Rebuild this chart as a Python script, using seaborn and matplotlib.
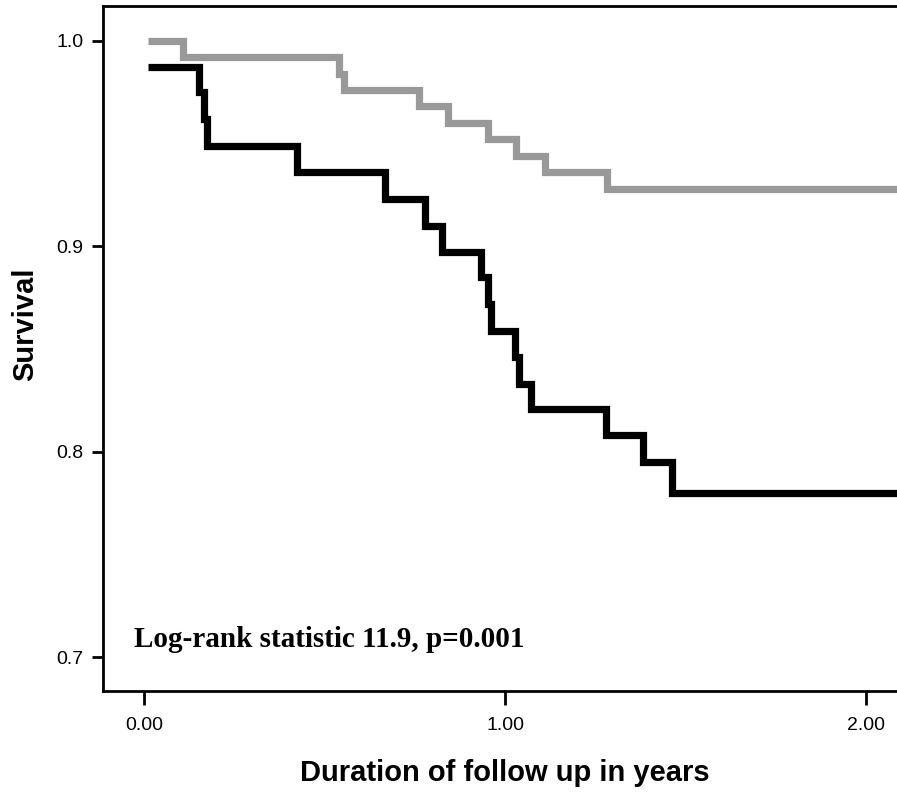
import matplotlib
matplotlib.use("Agg")
import matplotlib.pyplot as plt
import numpy as np
import pandas as pd
import seaborn as sns

# Kaplan-Meier curves
grupo_gris_tiempo = [0.01, 0.106, 0.540, 0.554, 0.762, 0.841, 0.953, 1.031, 1.110, 1.282, 2.15]
grupo_gris_superv = [1.000, 0.992, 0.984, 0.976, 0.968, 0.960, 0.952, 0.944, 0.936, 0.928, 0.928]

grupo_negro_tiempo = [0.01, 0.151, 0.166, 0.173, 0.4225, 0.6665, 0.779, 0.8245, 0.9335,
                      0.954, 0.961, 1.027, 1.039, 1.071, 1.279, 1.383, 1.463, 2.15]
grupo_negro_superv = [0.987, 0.975, 0.962, 0.949, 0.936, 0.923, 0.910, 0.897, 0.885,
                      0.872, 0.859, 0.846, 0.833, 0.821, 0.808, 0.795, 0.780, 0.780]

x_ticks = [0.0, 1.0, 2.0]
x_tick_labels = ["0.00", "1.00", "2.00"]
y_ticks = [0.7, 0.8, 0.9, 1.0]
y_tick_labels = ["0.7", "0.8", "0.9", "1.0"]

texto_logrank = "Log-rank statistic 11.9, p=0.001"

sns.set_style("ticks")
plt.rcParams["font.family"] = ["Liberation Sans", "DejaVu Sans"]
plt.rcParams["text.color"] = "black"
plt.rcParams["axes.labelcolor"] = "black"
plt.rcParams["xtick.color"] = "black"
plt.rcParams["ytick.color"] = "black"

fig = plt.figure(figsize=(8.97, 7.93), dpi=100)
ax = fig.add_axes([103 / 897, 102 / 793, 803 / 897, 685 / 793])

df_gris = pd.DataFrame({"tiempo": grupo_gris_tiempo, "superv": grupo_gris_superv})
df_negro = pd.DataFrame({"tiempo": grupo_negro_tiempo, "superv": grupo_negro_superv})

estilo = dict(drawstyle="steps-post", linewidth=5.2, solid_joinstyle="miter",
              solid_capstyle="butt", estimator=None, sort=False)
sns.lineplot(data=df_gris, x="tiempo", y="superv", color="#999999", ax=ax, **estilo)
sns.lineplot(data=df_negro, x="tiempo", y="superv", color="black", ax=ax, **estilo)

ax.set_xlim(-0.1145, 2.1117)
ax.set_ylim(0.6836, 1.0169)
ax.set_xticks(x_ticks)
ax.set_xticklabels(x_tick_labels)
ax.set_yticks(y_ticks)
ax.set_yticklabels(y_tick_labels)
ax.tick_params(axis="both", labelsize=14, width=2, color="black", labelcolor="black")
ax.tick_params(axis="x", length=10, pad=9)
ax.tick_params(axis="y", length=8, pad=6)

for lado in ["left", "bottom", "top"]:
    ax.spines[lado].set_linewidth(2)
    ax.spines[lado].set_color("black")
ax.spines["right"].set_visible(False)

ax.set_xlabel("Duration of follow up in years", fontsize=21, fontweight="bold", color="black")
ax.set_ylabel("Survival", fontsize=21, fontweight="bold", color="black")
ax.xaxis.set_label_coords(0.5, -0.131)
ax.xaxis.label.set_va("baseline")
ax.yaxis.set_label_coords(-0.087, 0.536)
ax.yaxis.label.set_va("baseline")

ax.text(0.0386, 0.0647, texto_logrank, transform=ax.transAxes, ha="left", va="baseline",
        fontsize=21, fontweight="bold", color="black",
        family=["Liberation Serif", "DejaVu Serif"])

fig.savefig("out.png", dpi=100)
